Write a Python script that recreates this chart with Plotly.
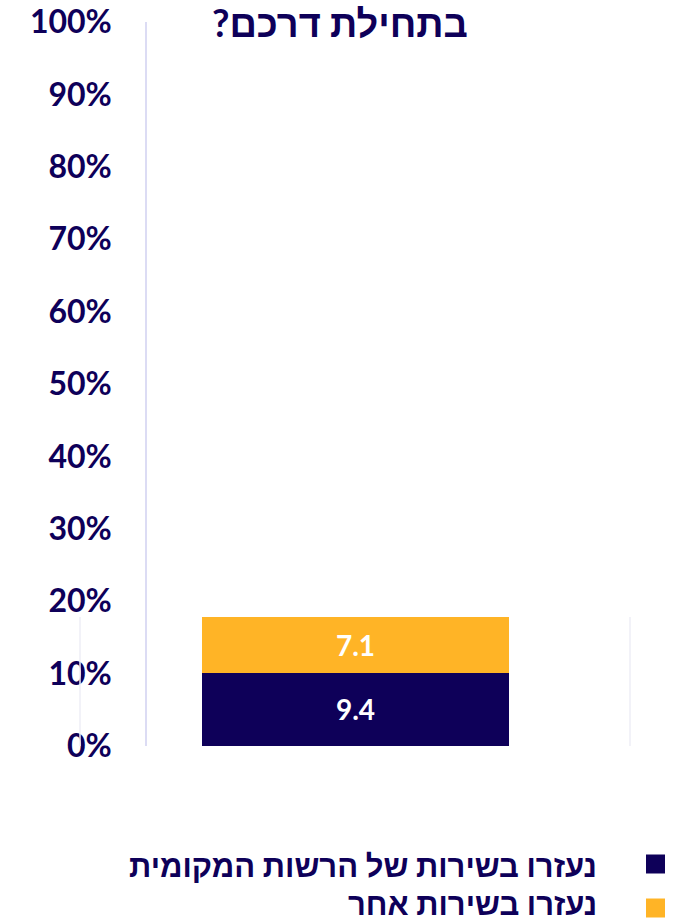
import plotly.graph_objects as go

# Data
category = ["סה\"כ"]
series_names = ["נעזרו בשירות של הרשות המקומית", "נעזרו בשירות אחר"]
series_values = [[9.4], [7.1]]
series_colors = ["#0E0059", "#FFB426"]
tick_values = [0, 10, 20, 30, 40, 50, 60, 70, 80, 90, 100]
tick_labels = [f"{v}%" for v in tick_values]
title_text = "בתחילת דרכם?\u200F"

NAVY = "#0E0059"
W, H = 682, 921
ML, MR, MT, MB = 147, 118, 22, 175
PW, PH = W - ML - MR, H - MT - MB


def px_x(x):
    return (x - ML) / PW


def px_y(y):
    return (H - MB - y) / PH


HEB_FONT = "Lato, 'Liberation Sans', 'DejaVu Sans', sans-serif"

fig = go.Figure()
# anchor trace so the percentage axis is drawn
fig.add_trace(go.Scatter(x=category, y=[None], mode="markers",
                         showlegend=False, hoverinfo="skip"))
for name, vals, col in zip(series_names, series_values, series_colors):
    fig.add_trace(go.Bar(
        x=category, y=vals, name=name, yaxis="y2",
        marker=dict(color=col, line=dict(width=0)),
        width=307 / PW,
        texttemplate="%{y}", textposition="inside", insidetextanchor="middle",
        textfont=dict(family="Lato, sans-serif", size=28, color="white", weight="bold"),
        showlegend=False, hoverinfo="skip",
    ))

total = sum(v[0] for v in series_values)

shapes = []
# faint frame edges around the bar block
for xp in (80, 630):
    shapes.append(dict(type="line", xref="paper", yref="y2",
                       x0=px_x(xp), x1=px_x(xp), y0=0, y1=total,
                       line=dict(color="#EEEEF6", width=1.5)))

annotations = [dict(
    text=title_text, xref="paper", yref="paper",
    x=px_x(340), y=px_y(22), xanchor="center", yanchor="middle",
    showarrow=False, font=dict(family=HEB_FONT, size=38, color=NAVY, weight="bold"),
)]

# legend drawn right-to-left: marker on the right, label to its left
legend_rows = [(865, 864), (903, 908)]
for (ty, sy), name, col in zip(legend_rows, series_names, series_colors):
    shapes.append(dict(type="rect", xref="paper", yref="paper",
                       x0=px_x(646), x1=px_x(665), y0=px_y(sy - 9.5), y1=px_y(sy + 9.5),
                       fillcolor=col, line=dict(width=0)))
    annotations.append(dict(
        text=name + "\u200F", xref="paper", yref="paper",
        x=px_x(599), y=px_y(ty), xanchor="right", yanchor="middle",
        showarrow=False, font=dict(family=HEB_FONT, size=31, color=NAVY, weight="bold"),
    ))

fig.update_layout(
    width=W, height=H,
    margin=dict(l=ML, r=MR, t=MT, b=MB, autoexpand=False),
    paper_bgcolor="white", plot_bgcolor="white",
    barmode="stack",
    xaxis=dict(range=[-0.5, 0.5], showticklabels=False, showgrid=False,
               zeroline=False, showline=False, fixedrange=True, automargin=False),
    yaxis=dict(range=[0, 100], tickvals=tick_values, ticktext=tick_labels,
               showgrid=False, zeroline=False, showline=True,
               linecolor="#DCDCF4", linewidth=1.5, ticks="",
               ticklabelstandoff=27, automargin=False,
               tickfont=dict(family="Lato, sans-serif", size=32, color=NAVY, weight="bold")),
    yaxis2=dict(range=[0, total * PH / 129], overlaying="y", visible=False,
                showgrid=False, zeroline=False, automargin=False),
    shapes=shapes,
    annotations=annotations,
)

fig.write_html("out.html")
